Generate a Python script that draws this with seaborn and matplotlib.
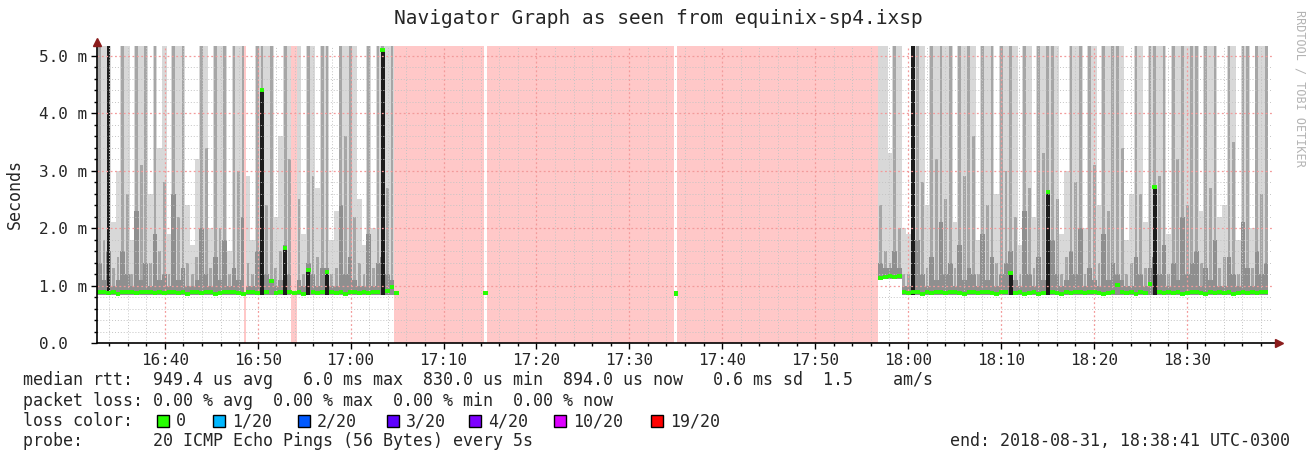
import numpy as np
import pandas as pd
import matplotlib
matplotlib.use("Agg")
import matplotlib.pyplot as plt
from matplotlib.patches import Rectangle
import seaborn as sns

###### data (time = minutes after 16:00, rtt in ms)
title = "Navigator Graph as seen from equinix-sp4.ixsp"
t_start, t_end = 32.7, 159.18
bin_w = 0.5
left_t0, right_t0 = 32.7, 116.8
min_rtt = 0.83

# left block (16:32:42 - 17:04:42), half-minute bins
left_hi = [5.2, 5.2, 5.2, 2.1, 3.0, 5.2, 5.2, 1.8, 5.2, 5.2, 5.2, 2.6, 5.2, 3.4, 5.2, 1.9,
           5.2, 5.2, 5.2, 2.4, 1.7, 3.2, 5.2, 5.2, 2.0, 5.2, 5.2, 5.2, 1.6, 5.2, 5.2, 5.2,
           2.9, 1.8, 5.2, 5.2, 5.2, 5.2, 2.2, 3.6, 5.2, 5.2, 5.2, 5.2, 1.9, 5.2, 5.2, 2.7,
           5.2, 5.2, 1.8, 2.3, 5.2, 5.2, 5.2, 5.2, 2.5, 1.7, 5.2, 2.0, 5.2, 5.2, 5.2, 5.2]
left_mid = [5.2, 1.8, 5.2, 1.3, 1.5, 5.2, 2.6, 1.2, 5.2, 3.1, 5.2, 1.4, 5.2, 1.6, 2.8, 1.2,
            5.2, 2.2, 5.2, 1.4, 1.2, 1.5, 5.2, 3.4, 1.3, 5.2, 2.0, 5.2, 1.2, 5.2, 3.0, 5.2,
            1.4, 1.2, 5.2, 5.2, 2.4, 5.2, 1.3, 1.6, 5.2, 3.2, 5.2, 2.5, 1.2, 5.2, 2.9, 1.5,
            5.2, 5.2, 1.2, 1.3, 5.2, 3.6, 5.2, 2.2, 1.4, 1.2, 5.2, 1.3, 5.2, 5.2, 2.7, 5.2]
left_lo = [1.4, 1.1, 1.6, 1.0, 1.1, 1.6, 1.2, 1.0, 2.3, 1.1, 1.4, 1.0, 1.9, 1.1, 1.2, 1.0,
           2.6, 1.1, 1.3, 1.0, 1.0, 1.1, 2.0, 1.2, 1.0, 1.5, 1.1, 1.8, 1.0, 1.3, 1.1, 2.2,
           1.0, 1.0, 1.6, 1.4, 1.2, 1.1, 1.0, 1.1, 1.7, 1.2, 1.5, 1.1, 1.0, 1.4, 1.2, 1.0,
           1.3, 1.3, 1.0, 1.0, 2.4, 1.2, 1.5, 1.1, 1.0, 1.0, 1.9, 1.0, 1.4, 1.5, 1.2, 1.1]
left_med = [0.88, 0.89, 0.87, 0.88, 0.86, 0.88, 0.89, 0.88, 0.87, 0.88, 0.88, 0.89, 0.87, 0.88, 0.87, 0.88,
            0.88, 0.87, 0.88, 0.86, 0.88, 0.89, 0.87, 0.88, 0.88, 0.86, 0.87, 0.88, 0.89, 0.88, 0.87, 0.86,
            0.88, 0.88, 0.87, 4.40, 0.88, 1.08, 0.87, 0.88, 1.65, 0.88, 0.87, 0.88, 0.86, 1.27, 0.88, 0.87,
            0.88, 1.24, 0.88, 0.87, 0.88, 0.86, 0.88, 0.89, 0.87, 0.88, 0.87, 0.88, 0.88, 5.10, 0.90, 0.97]

# right block (17:56:48 - 18:38:41)
right_hi = [5.2, 5.2, 3.3, 5.2, 5.2, 2.0, 1.9, 5.2, 5.2, 5.2, 2.4, 5.2, 5.2, 5.2, 5.2, 5.2,
            2.1, 5.2, 5.2, 5.2, 5.2, 1.8, 5.2, 5.2, 5.2, 2.6, 5.2, 5.2, 5.2, 5.2, 1.7, 5.2,
            5.2, 2.2, 5.2, 5.2, 5.2, 5.2, 5.2, 1.9, 3.0, 5.2, 5.2, 5.2, 2.0, 5.2, 5.2, 2.4,
            5.2, 5.2, 5.2, 5.2, 5.2, 1.8, 2.6, 5.2, 5.2, 2.1, 5.2, 5.2, 5.2, 5.2, 1.9, 5.2,
            5.2, 5.2, 5.2, 5.2, 5.2, 2.3, 5.2, 5.2, 5.2, 2.2, 2.4, 5.2, 5.2, 1.8, 5.2, 5.2,
            2.0, 5.2, 5.2, 5.2]
right_mid = [2.4, 1.6, 1.4, 5.2, 2.0, 1.2, 1.2, 5.2, 5.2, 2.8, 1.3, 5.2, 3.2, 5.2, 2.5, 5.2,
             1.3, 5.2, 2.9, 5.2, 3.6, 1.2, 5.2, 2.4, 5.2, 1.4, 5.2, 3.0, 5.2, 2.2, 1.2, 5.2,
             2.7, 1.3, 5.2, 3.3, 5.2, 5.2, 2.5, 1.2, 1.5, 5.2, 2.8, 5.2, 1.2, 5.2, 3.1, 1.4,
             5.2, 2.3, 5.2, 5.2, 3.4, 1.2, 1.4, 5.2, 2.6, 1.3, 5.2, 5.2, 2.9, 5.2, 1.2, 5.2,
             3.2, 5.2, 2.4, 5.2, 5.2, 1.4, 5.2, 2.7, 5.2, 1.3, 1.5, 5.2, 3.5, 1.2, 5.2, 5.2,
             1.3, 5.2, 2.6, 5.2]
right_lo = [1.4, 1.3, 1.3, 1.6, 1.3, 1.0, 1.0, 1.5, 1.8, 1.2, 1.0, 1.5, 1.1, 2.1, 1.2, 1.4,
            1.0, 1.7, 1.1, 1.3, 1.2, 1.0, 1.9, 1.1, 1.5, 1.0, 1.2, 1.4, 1.6, 1.1, 1.0, 2.3,
            1.2, 1.0, 1.5, 1.1, 1.4, 1.8, 1.2, 1.0, 1.1, 1.6, 1.2, 2.0, 1.0, 1.3, 1.1, 1.0,
            1.9, 1.1, 1.4, 1.2, 1.1, 1.0, 1.0, 1.5, 1.2, 1.0, 1.3, 1.5, 1.2, 1.7, 1.0, 1.4,
            1.1, 2.2, 1.2, 1.4, 1.6, 1.0, 1.3, 1.1, 1.8, 1.0, 1.0, 1.5, 1.2, 1.0, 2.1, 1.3,
            1.0, 1.6, 1.2, 1.4]
right_med = [1.13, 1.15, 1.16, 1.15, 1.17, 0.88, 0.87, 0.88, 0.88, 0.86, 0.88, 0.87, 0.88, 0.89, 0.87, 0.88,
             0.88, 0.87, 0.86, 0.88, 0.88, 0.87, 0.89, 0.88, 0.87, 0.86, 0.88, 0.88, 1.22, 0.87, 0.88, 0.86,
             0.87, 0.88, 0.86, 0.87, 2.62, 0.88, 0.87, 0.86, 0.88, 0.87, 0.88, 0.88, 0.87, 0.89, 0.88, 0.87,
             0.86, 0.87, 0.88, 1.01, 0.88, 0.87, 0.88, 0.86, 0.88, 0.87, 1.02, 2.72, 0.88, 0.87, 0.88, 0.87,
             0.88, 0.86, 0.87, 0.88, 0.88, 0.87, 0.86, 0.88, 0.87, 0.88, 0.87, 0.88, 0.86, 0.87, 0.88, 0.87,
             0.88, 0.87, 0.88, 0.88]
right_floor = [1.10, 1.11, 1.12, 1.11, 1.12] + [min_rtt] * 79

# dense (black) smoke columns
spike_t = [33.95, 50.45, 52.95, 55.45, 57.45, 63.45, 120.55, 131.05, 135.05, 146.55]
spike_top = [5.2, 4.4, 1.65, 1.27, 1.24, 5.1, 5.2, 1.22, 2.62, 2.72]

# lone medians inside the unknown period
lone_t = [64.95, 74.5, 95.05]
lone_med = [0.87, 0.87, 0.86]

# unknown data (pink) intervals
unknown_start = [48.52, 53.58, 64.7, 74.65, 95.15]
unknown_end = [48.74, 54.2, 74.35, 94.85, 116.8]

tick_pos = [40, 50, 60, 70, 80, 90, 100, 110, 120, 130, 140, 150]
tick_lab = ["16:40", "16:50", "17:00", "17:10", "17:20", "17:30",
            "17:40", "17:50", "18:00", "18:10", "18:20", "18:30"]
ytick_pos = [0, 1, 2, 3, 4, 5]
ytick_lab = ["0.0  ", "1.0 m", "2.0 m", "3.0 m", "4.0 m", "5.0 m"]

legend_rows = [
    "median rtt:  949.4 us avg   6.0 ms max  830.0 us min  894.0 us now   0.6 ms sd  1.5    am/s",
    "packet loss: 0.00 % avg  0.00 % max  0.00 % min  0.00 % now",
    "loss color:",
    "probe:       20 ICMP Echo Pings (56 Bytes) every 5s",
]
loss_labels = ["0", "1/20", "2/20", "3/20", "4/20", "10/20", "19/20"]
loss_colors = ["#26ff00", "#00b8ff", "#0059ff", "#5e00ff", "#7e00ff", "#dd00ff", "#ff0000"]
end_text = "end: 2018-08-31, 18:38:41 UTC-0300"

###### build tables
left = pd.DataFrame({"hi": left_hi, "mid": left_mid, "lo": left_lo, "med": left_med})
left["t"] = left_t0 + bin_w * np.arange(len(left))
left["floor"] = min_rtt
right = pd.DataFrame({"hi": right_hi, "mid": right_mid, "lo": right_lo, "med": right_med,
                      "floor": right_floor})
right["t"] = right_t0 + bin_w * np.arange(len(right))
smoke = pd.concat([left, right], ignore_index=True)
lone = pd.DataFrame({"t": lone_t, "med": lone_med})

###### plot
sns.set_style("white")
mono = "DejaVu Sans Mono"
plt.rcParams["font.family"] = [mono, "DejaVu Sans"]

fig = plt.figure(figsize=(13.16, 4.54), dpi=100)
W, H = 1316, 454
ax = fig.add_axes([97 / W, 1 - 343 / H, (1272 - 97) / W, (343 - 46) / H])

for s, e in zip(unknown_start, unknown_end):
    ax.axvspan(s, e, color="#ffc8c8", lw=0, zorder=1.2)

# smoke: light envelope, thin darker streaks, dense part near the median
ax.bar(smoke["t"], smoke["hi"] - smoke["floor"], bottom=smoke["floor"], width=bin_w,
       align="edge", color="#d8d8d8", lw=0, antialiased=False, zorder=1)
ax.bar(smoke["t"] + 0.1, smoke["mid"] - smoke["floor"], bottom=smoke["floor"], width=0.3,
       align="edge", color="#a6a6a6", lw=0, antialiased=False, zorder=1)
ax.bar(smoke["t"], smoke["lo"] - smoke["floor"], bottom=smoke["floor"], width=bin_w,
       align="edge", color="#8f8f8f", lw=0, antialiased=False, zorder=1)
ax.bar(spike_t, np.array(spike_top) - min_rtt, bottom=min_rtt, width=0.4,
       color="#1c1c1c", lw=0, antialiased=False, zorder=1.1)

# median, coloured by loss (all 0 here)
ax.hlines(smoke["med"], smoke["t"], smoke["t"] + bin_w, color=loss_colors[0], lw=2.8, zorder=4)
sns.scatterplot(data=lone, x="t", y="med", marker="s", s=10, color=loss_colors[0],
                edgecolor="none", ax=ax, zorder=4, legend=False)

ax.set_xlim(t_start, t_end)
ax.set_ylim(0, 5.17)
ax.set_xticks(tick_pos)
ax.set_xticklabels(tick_lab)
ax.set_xticks(np.arange(34, 159, 2), minor=True)
ax.set_yticks(ytick_pos)
ax.set_yticklabels(ytick_lab)
ax.set_yticks(np.arange(0, 5.2, 0.2), minor=True)
ax.set_axisbelow(False)
ax.grid(which="minor", color="#c4c4c4", ls=(0, (1, 2)), lw=0.7)
ax.grid(which="major", color="#f39a9a", ls=(0, (1.5, 2)), lw=0.9)
ax.tick_params(axis="both", which="major", labelsize=11.5, length=4, width=1, color="black", pad=3)
ax.tick_params(axis="both", which="minor", length=2.5, width=1, color="black")
ax.tick_params(left=True, bottom=True, which="both")
ax.set_xlabel("")
ax.set_ylabel("")
for side in ["top", "right", "left", "bottom"]:
    ax.spines[side].set_visible(False)

# axis lines with arrow heads
ax.plot([0, 1.005], [0, 0], color="black", lw=1.2, transform=ax.transAxes, clip_on=False, zorder=5)
ax.plot([0, 0], [0, 1.01], color="black", lw=1.2, transform=ax.transAxes, clip_on=False, zorder=5)
ax.plot(1.006, 0, marker=">", ms=6, color="#8b1c1c", transform=ax.transAxes, clip_on=False, zorder=6)
ax.plot(0, 1.015, marker="^", ms=6, color="#8b1c1c", transform=ax.transAxes, clip_on=False, zorder=6)

fig.text(0.5, 1 - 18 / H, title, ha="center", va="center", fontsize=14, family=mono)
fig.text(15 / W, 1 - 194 / H, "Seconds", rotation=90, ha="center", va="center", fontsize=12, family=mono)
fig.text(1300 / W, 1 - 88 / H, "RRDTOOL / TOBI OETIKER", rotation=-90, ha="center", va="center",
         fontsize=8.5, family=mono, color="#b4b4b4")

row_y = [380, 401, 421, 441]
for txt, yy in zip(legend_rows, row_y):
    fig.text(23 / W, 1 - yy / H, txt, ha="left", va="center", fontsize=12, family=mono)
fig.text(1290 / W, 1 - row_y[3] / H, end_text, ha="right", va="center", fontsize=12, family=mono)

sq_x = [157, 213, 298, 387, 469, 554, 651]
for x0, lab, c in zip(sq_x, loss_labels, loss_colors):
    fig.add_artist(Rectangle((x0 / W, 1 - (row_y[2] + 6) / H), 12 / W, 12 / H,
                             transform=fig.transFigure, facecolor=c, edgecolor="black", lw=1))
    fig.text((x0 + 19) / W, 1 - row_y[2] / H, lab, ha="left", va="center", fontsize=12, family=mono)

fig.savefig("out.png", dpi=100)
